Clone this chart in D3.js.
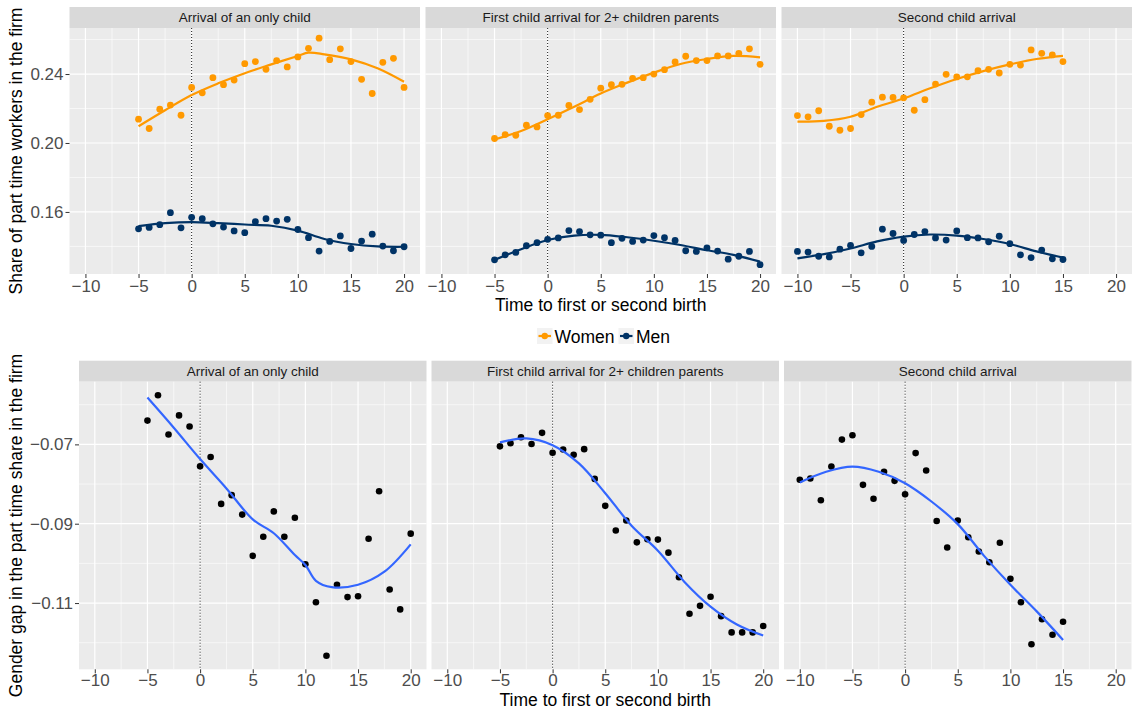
<!DOCTYPE html>
<html>
<head>
<meta charset="utf-8">
<script src="https://cdn.jsdelivr.net/npm/d3@7"></script>
<style>
body { margin: 0; background: #fff; }
text { font-family: "Liberation Sans", Arial, sans-serif; }
</style>
</head>
<body>
<div id="chart"></div>
<script>
// Data vars
var yearsA = [-5,-4,-3,-2,-1,0,1,2,3,4,5,6,7,8,9,10,11,12,13,14,15,16,17,18,19,20];
var yearsB = [-10,-9,-8,-7,-6,-5,-4,-3,-2,-1,0,1,2,3,4,5,6,7,8,9,10,11,12,13,14,15];
var facetTitles = ["Arrival of an only child", "First child arrival for 2+ children parents", "Second child arrival"];

var womenOnly = [0.2138,0.2084,0.2196,0.2220,0.2161,0.2322,0.2291,0.2379,0.2338,0.2365,0.2460,0.2472,0.2427,0.2478,0.2441,0.2499,0.2549,0.2608,0.2483,0.2546,0.2472,0.2369,0.2287,0.2468,0.2491,0.2322];
var menOnly = [0.1502,0.1510,0.1526,0.1596,0.1508,0.1569,0.1561,0.1531,0.1512,0.1490,0.1480,0.1543,0.1561,0.1547,0.1557,0.1498,0.1451,0.1373,0.1429,0.1461,0.1388,0.1431,0.1471,0.1402,0.1375,0.1398];
var womenFirst = [0.2026,0.2049,0.2045,0.2103,0.2093,0.2159,0.2161,0.2218,0.2194,0.2253,0.2318,0.2338,0.2340,0.2375,0.2379,0.2400,0.2425,0.2470,0.2503,0.2478,0.2478,0.2505,0.2505,0.2520,0.2546,0.2456];
var menFirst = [0.1322,0.1351,0.1365,0.1404,0.1422,0.1441,0.1449,0.1492,0.1486,0.1467,0.1465,0.1422,0.1447,0.1429,0.1437,0.1463,0.1451,0.1435,0.1375,0.1371,0.1392,0.1373,0.1326,0.1343,0.1371,0.1294];
var womenSecond = [0.2159,0.2152,0.2187,0.2097,0.2074,0.2084,0.2165,0.2237,0.2266,0.2264,0.2262,0.2190,0.2251,0.2342,0.2398,0.2383,0.2384,0.2419,0.2427,0.2406,0.2456,0.2452,0.2540,0.2520,0.2511,0.2472];
var menSecond = [0.1371,0.1367,0.1343,0.1339,0.1384,0.1406,0.1363,0.1400,0.1500,0.1475,0.1435,0.1469,0.1486,0.1449,0.1437,0.1490,0.1451,0.1449,0.1427,0.1459,0.1416,0.1351,0.1335,0.1379,0.1328,0.1324];

var gapOnly = [-0.0640,-0.0576,-0.0675,-0.0627,-0.0655,-0.0755,-0.0732,-0.0850,-0.0828,-0.0877,-0.0981,-0.0933,-0.0869,-0.0933,-0.0885,-0.1002,-0.1098,-0.1233,-0.1054,-0.1085,-0.1083,-0.0938,-0.0818,-0.1066,-0.1116,-0.0925];
var gapFirst = [-0.0705,-0.0697,-0.0682,-0.0699,-0.0671,-0.0721,-0.0713,-0.0726,-0.0712,-0.0787,-0.0855,-0.0917,-0.0892,-0.0947,-0.0939,-0.0940,-0.0973,-0.1035,-0.1127,-0.1107,-0.1084,-0.1133,-0.1174,-0.1174,-0.1174,-0.1158];
var gapSecond = [-0.0789,-0.0786,-0.0841,-0.0756,-0.0688,-0.0677,-0.0802,-0.0837,-0.0769,-0.0792,-0.0826,-0.0722,-0.0766,-0.0893,-0.0960,-0.0892,-0.0934,-0.0970,-0.0997,-0.0948,-0.1039,-0.1098,-0.1204,-0.1141,-0.1180,-0.1147];

// loess curves as [time, value]
var smWomenOnly = [[-5,0.2097],[-2.5,0.2190],[0,0.2278],[2.5,0.2346],[5,0.2405],[7.5,0.2456],[10,0.2505],[11,0.2524],[12.5,0.2514],[15,0.2485],[17.5,0.2433],[20,0.2355]];
var smMenOnly = [[-5,0.1518],[-2.5,0.1535],[0,0.1541],[2.5,0.1535],[5,0.1527],[7.5,0.1520],[10,0.1492],[12.5,0.1443],[15,0.1414],[17.5,0.1400],[20,0.1398]];
var smWomenFirst = [[-5,0.2020],[-2.5,0.2070],[0,0.2138],[2.5,0.2210],[5,0.2287],[7.5,0.2350],[10,0.2408],[12.5,0.2458],[15,0.2487],[17.5,0.2505],[20,0.2497]];
var smMenFirst = [[-5,0.1322],[-2.5,0.1384],[0,0.1437],[2.5,0.1463],[5,0.1467],[7.5,0.1453],[10,0.1433],[12.5,0.1408],[15,0.1378],[17.5,0.1351],[20,0.1312]];
var smWomenSecond = [[-10,0.2124],[-7.5,0.2128],[-5,0.2152],[-2.5,0.2210],[0,0.2258],[2.5,0.2317],[5,0.2371],[7.5,0.2417],[10,0.2456],[12.5,0.2487],[15,0.2505]];
var smMenSecond = [[-10,0.1331],[-7.5,0.1355],[-5,0.1388],[-2.5,0.1429],[0,0.1457],[2.5,0.1469],[5,0.1463],[7.5,0.1443],[10,0.1414],[12.5,0.1371],[15,0.1335]];
var smGapOnly = [[-5,-0.0582],[-2.5,-0.0658],[0,-0.0737],[2.5,-0.0811],[5,-0.0889],[7,-0.0924],[9,-0.0979],[10,-0.1004],[11,-0.1044],[12.5,-0.1060],[15,-0.1054],[17.5,-0.1021],[20,-0.0952]];
var smGapFirst = [[-5,-0.0695],[-2.5,-0.0685],[0,-0.0702],[2.5,-0.0748],[5,-0.0823],[7.5,-0.0905],[10,-0.0968],[12.5,-0.1046],[15,-0.1109],[17.5,-0.1154],[20,-0.1182]];
var smGapSecond = [[-10,-0.0796],[-7.5,-0.0769],[-5,-0.0756],[-2.5,-0.0769],[0,-0.0798],[2.5,-0.0844],[5,-0.0901],[7.5,-0.0981],[10,-0.1054],[12.5,-0.1121],[15,-0.1193]];

// Tick vars
var xTicks = [-10,-5,0,5,10,15,20];
var xMinor = [-7.5,-2.5,2.5,7.5,12.5,17.5];
var topTicks = [0.16,0.20,0.24];
var topMinor = [0.14,0.18,0.22,0.26];
var botTicks = [-0.07,-0.09,-0.11];
var botMinor = [-0.06,-0.08,-0.10,-0.12];
var legendLabels = ["Women", "Men"];

var womenColor = "#ff9900";
var menColor = "#003366";
var gapColor = "#000000";
var fitColor = "#3366ff";

// Plotting vars
var xDomain = [-11.5, 21.5];
var stripH = 21;
var top1 = {left: 69.5, top: 28, w: 350.5, h: 246, gap: 5.5, pad: 2};
var top2 = {left: 79, top: 381.7, w: 347.5, h: 287.6, gap: 5, pad: 0.5};

var svg = d3.select("#chart")
.append("svg")
    .attr("width", 1132)
    .attr("height", 711);

var yTop = d3.scaleLinear()
    .domain([0.124, 0.2667])
    .range([top1.h, 0]);

var yBot = d3.scaleLinear()
    .domain([-0.1267, -0.0542])
    .range([top2.h, 0]);

function drawPanel(box, i, y, yMajor, yMinor) {
    var left = box.left + i * (box.w + box.gap);
    var x = d3.scaleLinear().domain(xDomain).range([0, box.w]);
    var g = svg.append("g")
        .attr("transform", "translate(" + left + "," + box.top + ")");

    // strip
    g.append("rect")
        .attr("y", -stripH)
        .attr("width", box.w)
        .attr("height", stripH)
        .attr("fill", "#d9d9d9");
    g.append("text")
        .attr("x", box.w / 2)
        .attr("y", -stripH / 2)
        .attr("dy", "0.35em")
        .attr("text-anchor", "middle")
        .attr("font-size", "13.5px")
        .attr("fill", "#1a1a1a")
        .text(facetTitles[i]);

    // panel background and grid
    g.append("rect")
        .attr("width", box.w)
        .attr("height", box.h)
        .attr("fill", "#ebebeb");
    g.selectAll(".yminor").data(yMinor).enter().append("line")
        .attr("x1", 0).attr("x2", box.w)
        .attr("y1", function(d) {return y(d)}).attr("y2", function(d) {return y(d)})
        .attr("stroke", "#fff").attr("stroke-width", 0.6);
    g.selectAll(".xminor").data(xMinor).enter().append("line")
        .attr("y1", 0).attr("y2", box.h)
        .attr("x1", function(d) {return x(d)}).attr("x2", function(d) {return x(d)})
        .attr("stroke", "#fff").attr("stroke-width", 0.6);
    g.selectAll(".ymajor").data(yMajor).enter().append("line")
        .attr("x1", 0).attr("x2", box.w)
        .attr("y1", function(d) {return y(d)}).attr("y2", function(d) {return y(d)})
        .attr("stroke", "#fff").attr("stroke-width", 1.2);
    g.selectAll(".xmajor").data(xTicks).enter().append("line")
        .attr("y1", 0).attr("y2", box.h)
        .attr("x1", function(d) {return x(d)}).attr("x2", function(d) {return x(d)})
        .attr("stroke", "#fff").attr("stroke-width", 1.2);

    // birth marker
    g.append("line")
        .attr("x1", x(0)).attr("x2", x(0))
        .attr("y1", 0).attr("y2", box.h)
        .attr("stroke", "#000")
        .attr("stroke-width", 0.9)
        .attr("stroke-dasharray", "1,2");

    // x axis
    var xa = g.append("g")
        .attr("transform", "translate(0," + box.h + ")")
        .call(d3.axisBottom(x).tickValues(xTicks).tickSize(4).tickPadding(box.pad).tickFormat(d3.format("d")));
    xa.select(".domain").remove();
    xa.selectAll("line").attr("stroke", "#333");
    xa.selectAll("text").attr("font-size", "17px").attr("fill", "#4d4d4d").attr("font-family", null);

    // y axis on first panel only
    if (i == 0) {
        var ya = g.append("g")
            .call(d3.axisLeft(y).tickValues(yMajor).tickSize(4).tickPadding(2).tickFormat(d3.format(".2f")));
        ya.select(".domain").remove();
        ya.selectAll("line").attr("stroke", "#333");
        ya.selectAll("text").attr("font-size", "17px").attr("fill", "#4d4d4d").attr("font-family", null);
    }
    return {g: g, x: x};
}

function addSeries(p, y, years, values, smooth, color, r) {
    p.g.append("g").selectAll("circle")
        .data(values)
        .enter()
        .append("circle")
            .attr("cx", function(d, j) {return p.x(years[j])})
            .attr("cy", function(d) {return y(d)})
            .attr("r", r)
            .attr("fill", color);
    var line = d3.line()
        .x(function(d) {return p.x(d[0])})
        .y(function(d) {return y(d[1])})
        .curve(d3.curveCatmullRom);
    p.g.append("path")
        .datum(smooth)
        .attr("d", line)
        .attr("fill", "none")
        .attr("stroke", color)
        .attr("stroke-width", 2.2);
}

// Top row: share of part time workers
var topSeries = [
    [yearsA, womenOnly, smWomenOnly, menOnly, smMenOnly],
    [yearsA, womenFirst, smWomenFirst, menFirst, smMenFirst],
    [yearsB, womenSecond, smWomenSecond, menSecond, smMenSecond]
];
topSeries.forEach(function(s, i) {
    var p = drawPanel(top1, i, yTop, topTicks, topMinor);
    addSeries(p, yTop, s[0], s[1], s[2], womenColor, 3.4);
    addSeries(p, yTop, s[0], s[3], s[4], menColor, 3.4);
});

// Bottom row: gender gap
var botSeries = [
    [yearsA, gapOnly, smGapOnly],
    [yearsA, gapFirst, smGapFirst],
    [yearsB, gapSecond, smGapSecond]
];
botSeries.forEach(function(s, i) {
    var p = drawPanel(top2, i, yBot, botTicks, botMinor);
    p.g.append("g").selectAll("circle")
        .data(s[1])
        .enter()
        .append("circle")
            .attr("cx", function(d, j) {return p.x(s[0][j])})
            .attr("cy", function(d) {return yBot(d)})
            .attr("r", 3.3)
            .attr("fill", gapColor);
    p.g.append("path")
        .datum(s[2])
        .attr("d", d3.line()
            .x(function(d) {return p.x(d[0])})
            .y(function(d) {return yBot(d[1])})
            .curve(d3.curveCatmullRom))
        .attr("fill", "none")
        .attr("stroke", fitColor)
        .attr("stroke-width", 2.2);
});

// Axis titles
function title(txt, x, y, rot) {
    var t = svg.append("text")
        .attr("text-anchor", "middle")
        .attr("font-size", "17.5px")
        .attr("fill", "#000")
        .text(txt);
    if (rot) {
        t.attr("transform", "translate(" + x + "," + y + ") rotate(-90)");
    } else {
        t.attr("x", x).attr("y", y);
    }
}
title("Time to first or second birth", top1.left + (3 * top1.w + 2 * top1.gap) / 2, 310.5, false);
title("Time to first or second birth", top2.left + (3 * top2.w + 2 * top2.gap) / 2, 705.5, false);
title("Share of part time workers in the firm", 22, top1.top + top1.h / 2, true);
title("Gender gap in the part time share in the firm", 22, top2.top + top2.h / 2, true);

// Legend
var legend = svg.append("g").attr("transform", "translate(537,328)");
var lx = 0;
[womenColor, menColor].forEach(function(c, k) {
    var item = legend.append("g").attr("transform", "translate(" + lx + ",0)");
    item.append("rect")
        .attr("width", 15.5).attr("height", 16)
        .attr("fill", "#f2f2f2");
    item.append("line")
        .attr("x1", 1.5).attr("x2", 14)
        .attr("y1", 8).attr("y2", 8)
        .attr("stroke", c).attr("stroke-width", 2.2);
    item.append("circle")
        .attr("cx", 7.75).attr("cy", 8).attr("r", 3.2)
        .attr("fill", c);
    var t = item.append("text")
        .attr("x", 17.5)
        .attr("y", 14.5)
        .attr("font-size", "17.5px")
        .attr("fill", "#000")
        .text(legendLabels[k]);
    lx += 17.5 + t.node().getComputedTextLength() + 4;
});
</script>
</body>
</html>
